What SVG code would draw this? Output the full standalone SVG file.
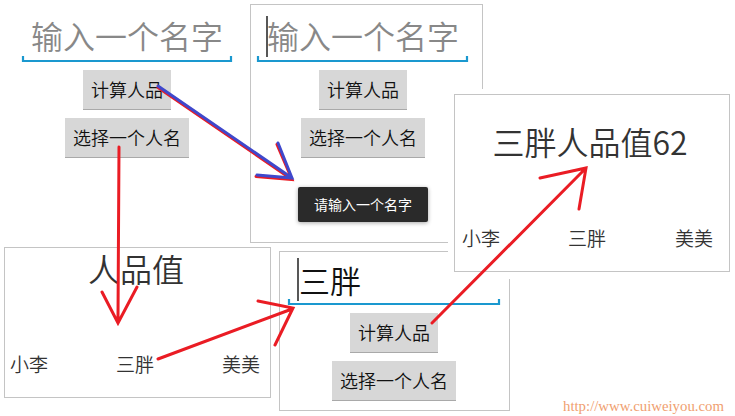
<svg xmlns="http://www.w3.org/2000/svg" width="735" height="416" viewBox="0 0 735 416">
<defs>
<style>
.panel{fill:#fff;stroke:#c4c4c4;stroke-width:1}
.hint{font-family:"Noto Sans CJK SC","Noto Sans",sans-serif;font-size:32px;font-weight:350;fill:#888}
.big{font-family:"Noto Sans CJK SC","Noto Sans",sans-serif;font-weight:350;fill:#333}
.btn{fill:#d7d7d7}
.btnshadow{fill:#a9a9a9}
.btxt{font-family:"Noto Sans CJK SC","Noto Sans",sans-serif;font-size:18px;font-weight:350;fill:#111;text-anchor:middle}
.lbl{font-family:"Noto Sans CJK SC","Noto Sans",sans-serif;font-size:19px;font-weight:350;fill:#333}
.uline{fill:none;stroke:#1a98cf;stroke-width:2.2}
.cursor{stroke:#111;stroke-width:1.4}
.red{fill:none;stroke:#ea1c24;stroke-width:3;stroke-linecap:round}
.blue{fill:none;stroke:#3f48cc;stroke-width:3;stroke-linecap:round}
</style>
<filter id="sh" x="-20%" y="-30%" width="140%" height="160%">
<feGaussianBlur in="SourceAlpha" stdDeviation="2"/>
<feOffset dy="1"/>
<feComponentTransfer><feFuncA type="linear" slope="0.35"/></feComponentTransfer>
<feMerge><feMergeNode/><feMergeNode in="SourceGraphic"/></feMerge>
</filter>
</defs>
<rect width="735" height="416" fill="#fff"/>

<g id="screen1">
<text class="hint" x="127" y="49" text-anchor="middle">输入一个名字</text>
<path class="uline" d="M23,56 V61 H231 V56"/>
<rect class="btnshadow" x="83" y="70" width="88" height="40"/>
<rect class="btn" x="83" y="70" width="88" height="39"/>
<text class="btxt" x="127" y="97">计算人品</text>
<rect class="btnshadow" x="65" y="118" width="124" height="40"/>
<rect class="btn" x="65" y="118" width="124" height="39"/>
<text class="btxt" x="127" y="145">选择一个人名</text>
</g>

<g id="screen2">
<rect class="panel" x="250.5" y="4.5" width="232" height="238"/>
<line class="cursor" x1="267" y1="16" x2="267" y2="57"/>
<text class="hint" x="267" y="49">输入一个名字</text>
<path class="uline" d="M258,56 V61 H467 V56"/>
<rect class="btnshadow" x="319" y="70" width="88" height="40"/>
<rect class="btn" x="319" y="70" width="88" height="39"/>
<text class="btxt" x="363" y="97">计算人品</text>
<rect class="btnshadow" x="301" y="118" width="124" height="40"/>
<rect class="btn" x="301" y="118" width="124" height="39"/>
<text class="btxt" x="363" y="145">选择一个人名</text>
<rect x="298" y="187" width="130" height="35" rx="2" fill="#2b2c2b" filter="url(#sh)"/>
<text x="363" y="210" text-anchor="middle" font-family="Noto Sans CJK SC, Noto Sans, sans-serif" font-size="14" fill="#fff">请输入一个名字</text>
</g>

<g id="screen4">
<rect class="panel" x="4.5" y="247.5" width="266" height="150"/>
<text class="big" x="136" y="282" font-size="32" text-anchor="middle">人品值</text>
<text class="lbl" x="10" y="372">小李</text>
<text class="lbl" x="116" y="372">三胖</text>
<text class="lbl" x="222" y="372">美美</text>
</g>

<g id="screen5">
<rect class="panel" x="279.5" y="251.5" width="230" height="159"/>
<line class="cursor" x1="298" y1="258" x2="298" y2="301"/>
<text x="299" y="293" font-family="Noto Sans CJK SC, Noto Sans, sans-serif" font-size="31" font-weight="350" fill="#111">三胖</text>
<path class="uline" d="M289,299 V304 H499 V299"/>
<rect class="btnshadow" x="350" y="313" width="88" height="40"/>
<rect class="btn" x="350" y="313" width="88" height="39"/>
<text class="btxt" x="394" y="340">计算人品</text>
<rect class="btnshadow" x="332" y="361" width="124" height="40"/>
<rect class="btn" x="332" y="361" width="124" height="39"/>
<text class="btxt" x="394" y="388">选择一个人名</text>
</g>

<g id="screen3">
<rect x="448" y="89" width="287" height="190" fill="#fff"/>
<rect class="panel" x="454.5" y="94.5" width="275" height="177"/>
<text class="big" x="590" y="155" font-size="32" text-anchor="middle">三胖人品值62</text>
<text class="lbl" x="462" y="246">小李</text>
<text class="lbl" x="568" y="246">三胖</text>
<text class="lbl" x="675" y="246">美美</text>
</g>

<g id="connectors">
<g transform="translate(0,1.5)">
<path class="red" d="M158,86 L292,178 M277,143 L292,178 L256,175"/>
</g>
<path class="blue" d="M158,86 L292,178 M278,143 L292,178 L257,175"/>
<path class="red" d="M119,147 L118,318 M102,292 L118,323 L137,287"/>
<path class="red" d="M158,359 L292,309 M258,301 L293,308 L275,345"/>
<path class="red" d="M432,323 L586,168 M540,178 L586,168 L579,209"/>
</g>

<text x="563" y="411" font-family="Liberation Serif, serif" font-size="14" fill="#f0a070" textLength="161" lengthAdjust="spacingAndGlyphs">http://www.cuiweiyou.com</text>
</svg>
